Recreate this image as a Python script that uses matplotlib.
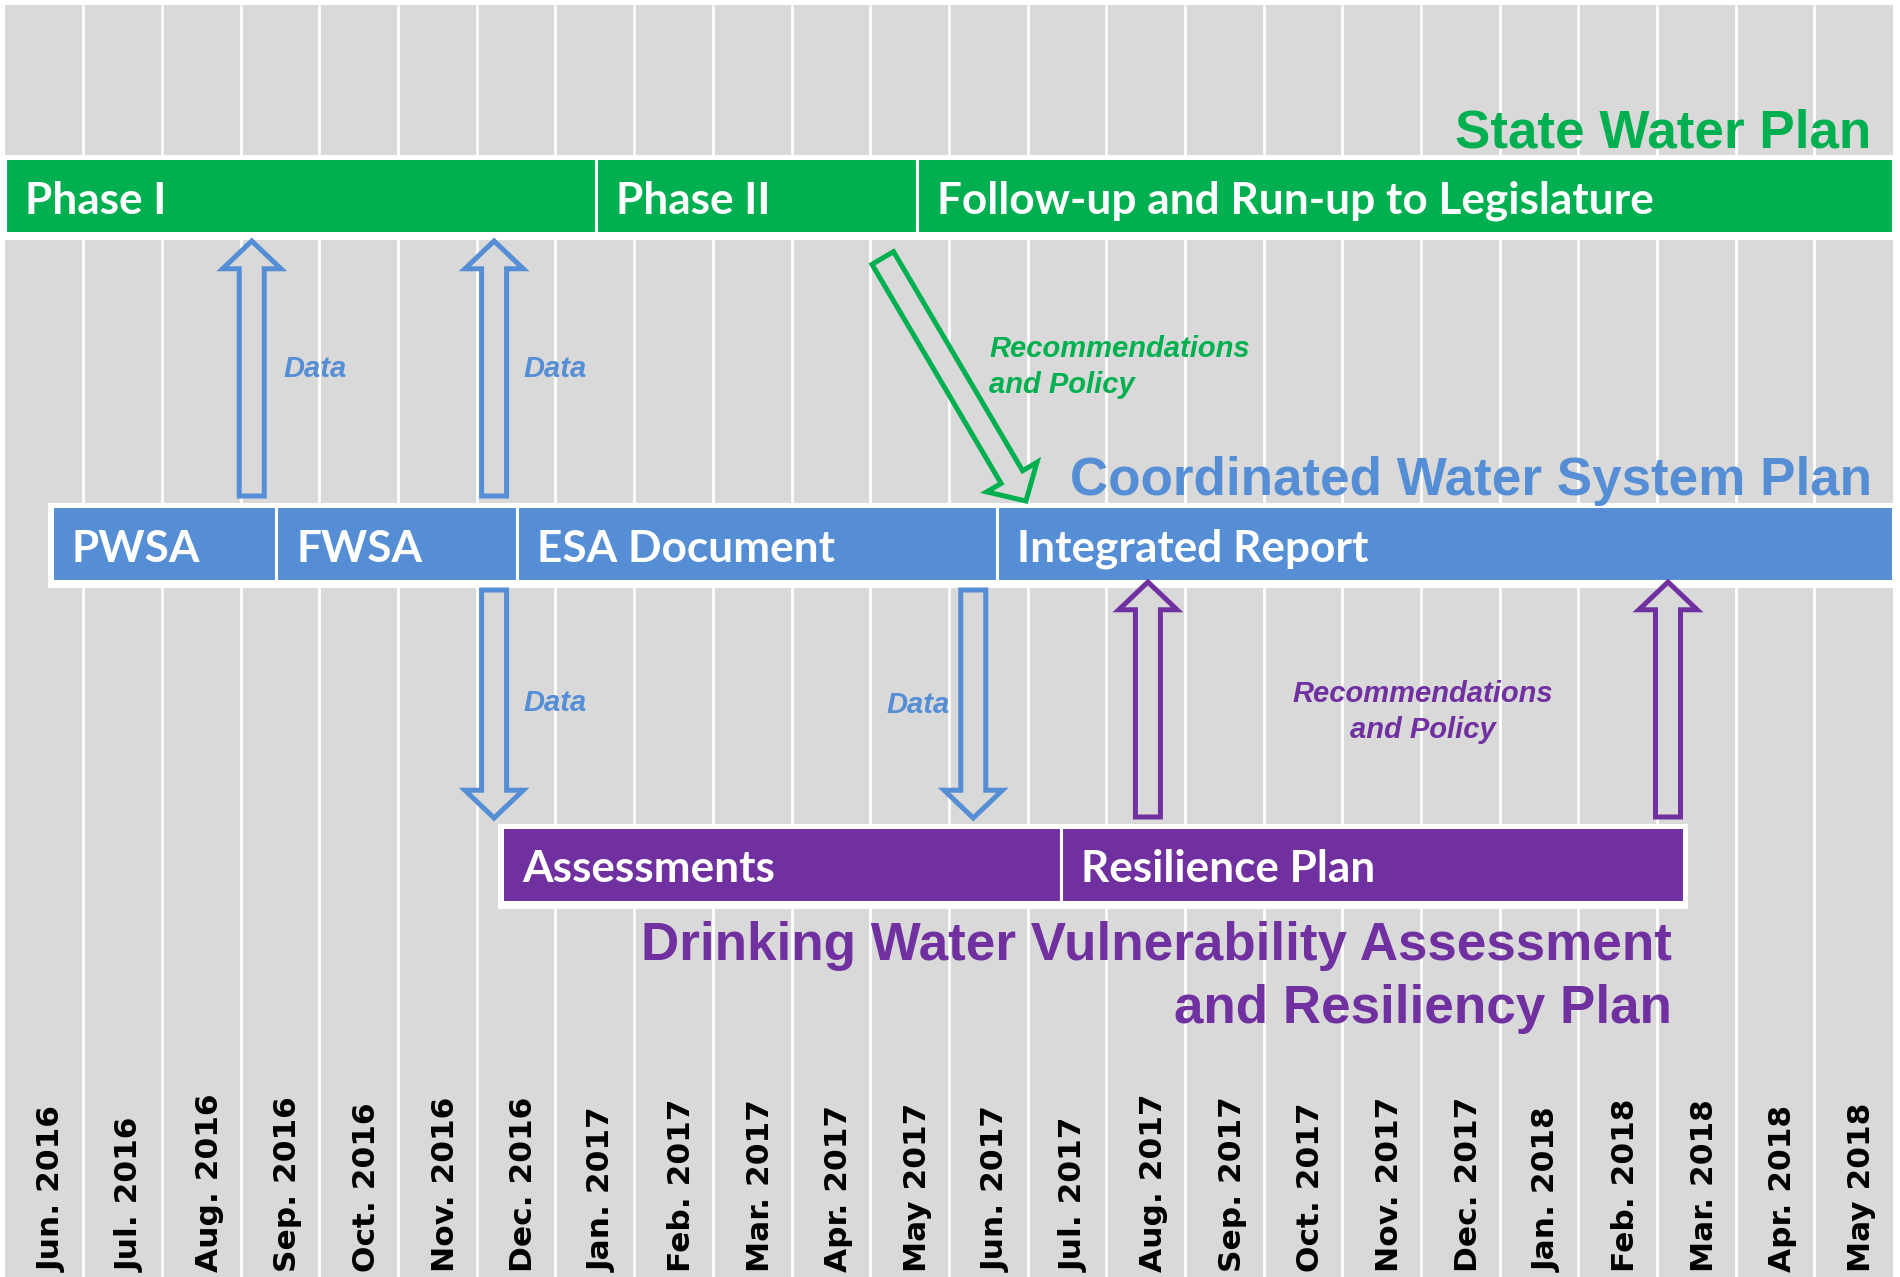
import matplotlib.pyplot as plt
from matplotlib.patches import Rectangle, FancyArrowPatch, ArrowStyle

# months along the bottom
months = ["Jun. 2016", "Jul. 2016", "Aug. 2016", "Sep. 2016", "Oct. 2016", "Nov. 2016",
          "Dec. 2016", "Jan. 2017", "Feb. 2017", "Mar. 2017", "Apr. 2017", "May 2017",
          "Jun. 2017", "Jul. 2017", "Aug. 2017", "Sep. 2017", "Oct. 2017", "Nov. 2017",
          "Dec. 2017", "Jan. 2018", "Feb. 2018", "Mar. 2018", "Apr. 2018", "May 2018"]

# State Water Plan phases (start/end in months from Jun. 2016)
swp_labels = ["Phase I", "Phase II", "Follow-up and Run-up to Legislature"]
swp_edges = [0, 7.52, 11.6, 24]

# Coordinated Water System Plan
cwsp_labels = ["PWSA", "FWSA", "ESA Document", "Integrated Report"]
cwsp_edges = [0.6, 3.45, 6.51, 12.61, 24]

# Drinking Water Vulnerability Assessment and Resiliency Plan
dw_labels = ["Assessments", "Resilience Plan"]
dw_edges = [6.32, 13.42, 21.34]

# hand-off arrows (month position)
data_up = [3.14, 6.22]        # CWSP -> SWP
data_down = [6.22, 12.31]     # CWSP -> DW
rec_up = [14.53, 21.14]       # DW -> CWSP
rec_diag = (11.16, 12.98)     # SWP -> CWSP (start, end)

GREEN = "#00B050"
BLUE = "#558ED5"
PURPLE = "#7030A0"
GREY = "#D9D9D9"

W, H = 1900, 1277
X0, DX = 4.7, 78.68   # pixel of first column edge, column width


def px(x):
    # pixel x -> month units
    return (x - X0) / DX


fig = plt.figure(figsize=(19, 12.77), dpi=100)
ax = fig.add_axes([0, 0, 1, 1])
ax.set_xlim(px(0), px(W))
ax.set_ylim(H, 0)
ax.axis("off")

# background columns
ax.add_patch(Rectangle((0, 5), len(months), H - 5, fc=GREY, ec="none", zorder=0))
ax.vlines(range(1, len(months)), 5, H, color="white", lw=2, zorder=1)

# month labels
for i, m in enumerate(months):
    ax.text(i + 0.6, 1272, m, rotation=90, ha="center", va="bottom",
            fontsize=22.5, fontweight="bold", family="DejaVu Sans", zorder=3)


def draw_bar(edges, labels, top, bottom, color):
    pad = 4 / DX
    ax.add_patch(Rectangle((edges[0] - pad, top - 3), edges[-1] - edges[0] + 2 * pad,
                           bottom - top + 10, fc="white", ec="none", zorder=2))
    for a, b, lab in zip(edges[:-1], edges[1:], labels):
        ax.add_patch(Rectangle((a, top), b - a, bottom - top, fc=color, ec="white",
                               lw=2.2, zorder=3))
        ax.text(a + 20 / DX, (top + bottom) / 2 + 5, lab, color="white", fontsize=31.8,
                fontweight="bold", family="Lato", ha="left", va="center", zorder=4)


draw_bar(swp_edges, swp_labels, 158, 233, GREEN)
draw_bar(cwsp_edges, cwsp_labels, 506, 581, BLUE)
draw_bar(dw_edges, dw_labels, 827, 902, PURPLE)

style = ArrowStyle.Simple(head_length=20, head_width=42, tail_width=18)


def arrow(x0, y0, x1, y1, color):
    ax.add_patch(FancyArrowPatch((x0, y0), (x1, y1), arrowstyle=style, mutation_scale=1,
                                 fc=GREY, ec=color, lw=3.6, shrinkA=0, shrinkB=0,
                                 joinstyle="miter", zorder=5))


for x in data_up:
    arrow(x, 496, x, 241, BLUE)
for x in data_down:
    arrow(x, 590, x, 818, BLUE)
for x in rec_up:
    arrow(x, 817, x, 582, PURPLE)
arrow(rec_diag[0], 258, rec_diag[1], 501, GREEN)

lab_kw = dict(fontsize=21, fontweight="bold", style="italic", family="Liberation Sans", zorder=4)
ax.text(px(283), 369, "Data", color=BLUE, ha="left", va="center", **lab_kw)
ax.text(px(523), 369, "Data", color=BLUE, ha="left", va="center", **lab_kw)
ax.text(px(523), 703, "Data", color=BLUE, ha="left", va="center", **lab_kw)
ax.text(px(950), 705, "Data", color=BLUE, ha="right", va="center", **lab_kw)
ax.text(px(989), 349, "Recommendations", color=GREEN, ha="left", va="center", **lab_kw)
ax.text(px(989), 385, "and Policy", color=GREEN, ha="left", va="center", **lab_kw)
ax.text(px(1423), 694, "Recommendations", color=PURPLE, ha="center", va="center", **lab_kw)
ax.text(px(1423), 730, "and Policy", color=PURPLE, ha="center", va="center", **lab_kw)

title_kw = dict(fontsize=38.2, fontweight="bold", family="Liberation Sans", ha="right",
                va="baseline", zorder=4)
ax.text(px(1871), 147, "State Water Plan", color=GREEN, **title_kw)
ax.text(px(1872), 495, "Coordinated Water System Plan", color=BLUE, **title_kw)
ax.text(px(1672), 960, "Drinking Water Vulnerability Assessment", color=PURPLE, **title_kw)
ax.text(px(1672), 1023, "and Resiliency Plan", color=PURPLE, **title_kw)

fig.savefig("out.png", dpi=100, facecolor="white")
